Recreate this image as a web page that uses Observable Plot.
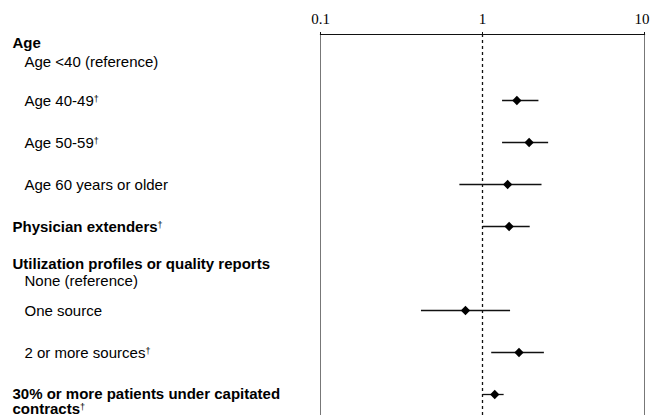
<!DOCTYPE html>
<html>
<head>
<meta charset="utf-8">
<script src="https://cdn.jsdelivr.net/npm/d3@7"></script>
<script src="https://cdn.jsdelivr.net/npm/@observablehq/plot@0.6"></script>
<style>
  body { margin: 0; background: white; }
</style>
</head>
<body>
<div id="chart"></div>
<script>
// ---- data ----
const rowLabels = [
  "Age <40 (reference)",
  "Age 40-49†",
  "Age 50-59†",
  "Age 60 years or older",
  "Physician extenders†",
  "None (reference)",
  "One source",
  "2 or more sources†",
  "30% or more patients under capitated\ncontracts†"
];
const estimates = [null, 1.63, 1.94, 1.43, 1.46, null, 0.785, 1.68, 1.19];
const lowerCI   = [null, 1.33, 1.33, 0.725, 1.01, null, 0.42, 1.14, 1.01];
const upperCI   = [null, 2.23, 2.56, 2.33, 1.97, null, 1.49, 2.41, 1.36];
const topLevelRows = ["Physician extenders†", "30% or more patients under capitated\ncontracts†"];
const groupHeaders = ["Age", "Utilization profiles or quality reports"];
const groupFirstRow = ["Age <40 (reference)", "None (reference)"];
const tickValues = [0.1, 1, 10];
const tickLabels = ["0.1", "1", "10"];

// ---- build tables ----
const ci = rowLabels.map((label, i) => ({label, est: estimates[i], lo: lowerCI[i], hi: upperCI[i]}))
  .filter(d => d.est != null);

// layout nudges (pixels) for label lines sharing a slot with their group header
const headerNudge = {"Age": -15, "Utilization profiles or quality reports": -4};
const firstRowNudge = {"Age <40 (reference)": 4, "None (reference)": 13};

const labelLines = [
  ...rowLabels.map(label => ({
    text: label,
    row: label,
    bold: topLevelRows.includes(label),
    dy: firstRowNudge[label] ?? (label.includes("\n") ? 7 : 1)
  })),
  ...groupHeaders.map((h, i) => ({text: h, row: groupFirstRow[i], bold: true, dy: headerNudge[h]}))
];

const sans = "'Liberation Sans', Arial, Helvetica, sans-serif";

// one text mark per (weight, nudge) combination, since dx/dy are constants
const textMarks = d3.groups(labelLines, d => d.bold, d => d.dy).flatMap(([bold, byDy]) =>
  byDy.map(([dy, lines]) => Plot.text(lines, {
    y: "row", text: "text", frameAnchor: "left",
    dx: bold ? -308 : -296, dy,
    textAnchor: "start", fontWeight: bold ? "bold" : "normal",
    fill: "black", lineHeight: 1.02
  }))
);

const plot = Plot.plot({
  width: 650,
  height: 415,
  marginLeft: 320,
  marginRight: 6,
  marginTop: 34,
  marginBottom: 0,
  style: {fontFamily: sans, fontSize: "15px", color: "black", background: "white", overflow: "visible"},
  x: {type: "log", domain: [0.1, 10]},
  y: {type: "point", domain: rowLabels, range: [55, 397], padding: 0, axis: null},
  marks: [
    Plot.ruleX([0.1, 10], {stroke: "#777", strokeWidth: 1}),
    Plot.ruleX([1], {stroke: "#111", strokeWidth: 1.3, strokeDasharray: "3,3"}),
    Plot.frame({anchor: "top", stroke: "#111", strokeWidth: 1.2}),
    Plot.axisX({
      anchor: "top",
      ticks: tickValues,
      tickFormat: d => tickLabels[tickValues.indexOf(d)],
      tickSize: 3,
      tickPadding: 8,
      fontFamily: "'Liberation Serif', 'Times New Roman', serif",
      fontSize: 15,
      stroke: "#111"
    }),
    Plot.ruleY(ci, {y: "label", x1: "lo", x2: "hi", stroke: "#111", strokeWidth: 1.3}),
    Plot.dot(ci, {y: "label", x: "est", symbol: "diamond2", r: 4.2, fill: "black", stroke: "none"}),
    ...textMarks
  ]
});

// last tick label sits inside the right edge, as in the original
plot.querySelectorAll("text").forEach(t => {
  if (t.textContent === "10") { t.setAttribute("text-anchor", "end"); t.setAttribute("dx", "5"); }
});

// superscript daggers (kept as real text)
const walker = document.createTreeWalker(plot, NodeFilter.SHOW_TEXT);
const nodes = [];
while (walker.nextNode()) if (walker.currentNode.nodeValue.includes("†")) nodes.push(walker.currentNode);
for (const node of nodes) {
  const parts = node.nodeValue.split("†");
  node.nodeValue = parts[0];
  const t = document.createElementNS("http://www.w3.org/2000/svg", "tspan");
  t.setAttribute("dy", "-0.45em");
  t.setAttribute("font-size", "9");
  t.setAttribute("font-weight", "normal");
  t.setAttribute("fill", "black");
  t.textContent = "†";
  node.parentNode.insertBefore(t, node.nextSibling);
}

document.getElementById("chart").appendChild(plot);
</script>
</body>
</html>
